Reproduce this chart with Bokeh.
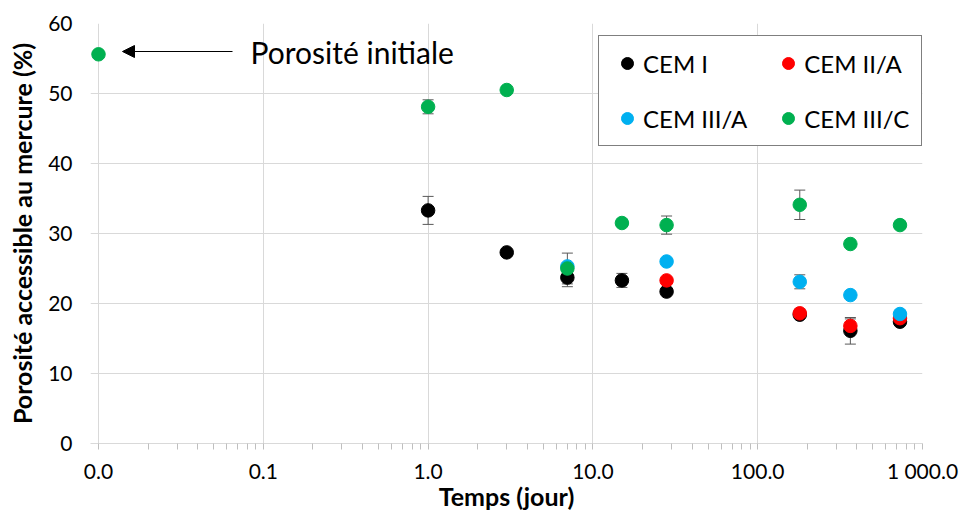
from bokeh.plotting import figure
from bokeh.models import (ColumnDataSource, Whisker, TeeHead, Legend, LegendItem,
                          FixedTicker, Arrow, NormalHead, Label, Range1d)
from bokeh.embed import file_html
from bokeh.resources import INLINE

# ---------------- data ----------------
series_names = ["CEM I", "CEM II/A", "CEM III/A", "CEM III/C"]
series_colors = ["#000000", "#ff0000", "#00b0f0", "#00b050"]

cem1_days = [1, 3, 7, 15, 28, 180, 365, 730]
cem1_por = [33.3, 27.3, 23.7, 23.3, 21.7, 18.4, 16.1, 17.4]
cem1_err = [2.0, 0.5, 1.3, 1.0, 0.4, 0.5, 1.9, 0.5]

cem2a_days = [28, 180, 365, 730]
cem2a_por = [23.3, 18.6, 16.8, 17.9]
cem2a_err = [0.3, 0.6, 1.0, 0.4]

cem3a_days = [7, 28, 180, 365, 730]
cem3a_por = [25.3, 26.0, 23.1, 21.2, 18.5]
cem3a_err = [0.5, 0.3, 1.0, 0.3, 0.3]

cem3c_days = [0.01, 1, 3, 7, 15, 28, 180, 365, 730]
cem3c_por = [55.6, 48.1, 50.5, 25.0, 31.5, 31.2, 34.1, 28.5, 31.2]
cem3c_err = [0.5, 1.0, 0.5, 2.2, 0.4, 1.3, 2.1, 0.4, 0.4]

x_ticks = [0.01, 0.1, 1, 10, 100, 1000]
x_tick_labels = ["0.0", "0.1", "1.0", "10.0", "100.0", "1 000.0"]
y_ticks = [0, 10, 20, 30, 40, 50, 60]

annotation_text = "Porosité initiale"
x_label = "Temps (jour)"
y_label = "Porosité accessible au mercure (%)"

FONT = "Lato"
DEC = 164.8          # pixels per decade on the x axis
PAD = 8              # room left of the first decade so the marker is not cut

p = figure(width=960, height=513, x_axis_type="log",
           x_range=Range1d(0.01 * 10 ** (-PAD / DEC), 1000), y_range=Range1d(0, 60),
           output_backend="svg", toolbar_location=None,
           min_border_left=90, min_border_right=38,
           min_border_top=23, min_border_bottom=70)
p.outline_line_color = None
p.background_fill_color = "white"

# grids
p.xgrid.grid_line_color = "#d9d9d9"
p.ygrid.grid_line_color = "#d9d9d9"

minor = []
for d in x_ticks[:-1]:
    for k in range(2, 10):
        minor.append(d * k)
p.xaxis.ticker = FixedTicker(ticks=x_ticks, minor_ticks=minor)
p.xaxis.major_label_overrides = {t: l for t, l in zip(x_ticks, x_tick_labels)}
p.yaxis.ticker = FixedTicker(ticks=y_ticks)
p.xgrid.ticker = FixedTicker(ticks=x_ticks)
p.ygrid.ticker = FixedTicker(ticks=y_ticks)

p.xaxis.axis_line_color = "#d9d9d9"
p.xaxis.major_tick_line_color = "#bfbfbf"
p.xaxis.minor_tick_line_color = "#bfbfbf"
p.xaxis.major_tick_out = 6
p.xaxis.major_tick_in = 0
p.xaxis.minor_tick_out = 6
p.xaxis.minor_tick_in = 0
p.xaxis.major_label_standoff = 8

p.yaxis.axis_line_color = None
p.yaxis.major_tick_line_color = None
p.yaxis.minor_tick_line_color = None
p.yaxis.major_label_standoff = 12

for ax in (p.xaxis, p.yaxis):
    ax.major_label_text_font = FONT
    ax.major_label_text_font_size = "21px"
    ax.major_label_text_color = "#000000"
    ax.axis_label_text_font = FONT
    ax.axis_label_text_font_size = "25px"
    ax.axis_label_text_font_style = "bold"
    ax.axis_label_text_color = "#000000"
p.xaxis.axis_label = x_label
p.yaxis.axis_label = y_label
p.xaxis.axis_label_standoff = -5
p.yaxis.axis_label_standoff = 8

all_days = [cem1_days, cem2a_days, cem3a_days, cem3c_days]
all_por = [cem1_por, cem2a_por, cem3a_por, cem3c_por]
all_err = [cem1_err, cem2a_err, cem3a_err, cem3c_err]

items = {}
for name, col, d, v, e in zip(series_names, series_colors, all_days, all_por, all_err):
    src = ColumnDataSource(dict(x=d, y=v,
                                lo=[a - b for a, b in zip(v, e)],
                                hi=[a + b for a, b in zip(v, e)]))
    w = Whisker(base="x", upper="hi", lower="lo", source=src,
                line_color="#595959", line_width=1, level="underlay",
                upper_head=TeeHead(size=11, line_color="#595959", line_width=1),
                lower_head=TeeHead(size=11, line_color="#595959", line_width=1))
    p.add_layout(w)
    r = p.scatter("x", "y", source=src, size=13.5, fill_color=col, line_color=col)
    items[name] = LegendItem(label=name, renderers=[r])

# legend fills column-wise: order so rows read CEM I | CEM II/A, CEM III/A | CEM III/C
order = [series_names[0], series_names[2], series_names[1], series_names[3]]
legend = Legend(items=[items[n] for n in order], ncols=2, location=(508, 297),
                border_line_color="black", border_line_width=1,
                label_text_font=FONT, label_text_font_size="24px",
                label_text_color="#000000",
                glyph_width=32, glyph_height=30, label_height=30,
                padding=12, spacing=25, label_standoff=0, margin=0,
                background_fill_alpha=1)
p.add_layout(legend, "center")

arrow = Arrow(end=NormalHead(size=12, fill_color="black", line_color="black"),
              x_start=0.01 * 10 ** (134 / DEC), y_start=56.0,
              x_end=0.01 * 10 ** (24 / DEC), y_end=56.0,
              line_color="black", line_width=1)
p.add_layout(arrow)
p.add_layout(Label(x=0.01 * 10 ** (152 / DEC), y=56.0, text=annotation_text,
                   text_font=FONT, text_font_size="30px", text_baseline="middle",
                   text_color="#000000"))

open("out.html", "w").write(file_html(p, INLINE))
